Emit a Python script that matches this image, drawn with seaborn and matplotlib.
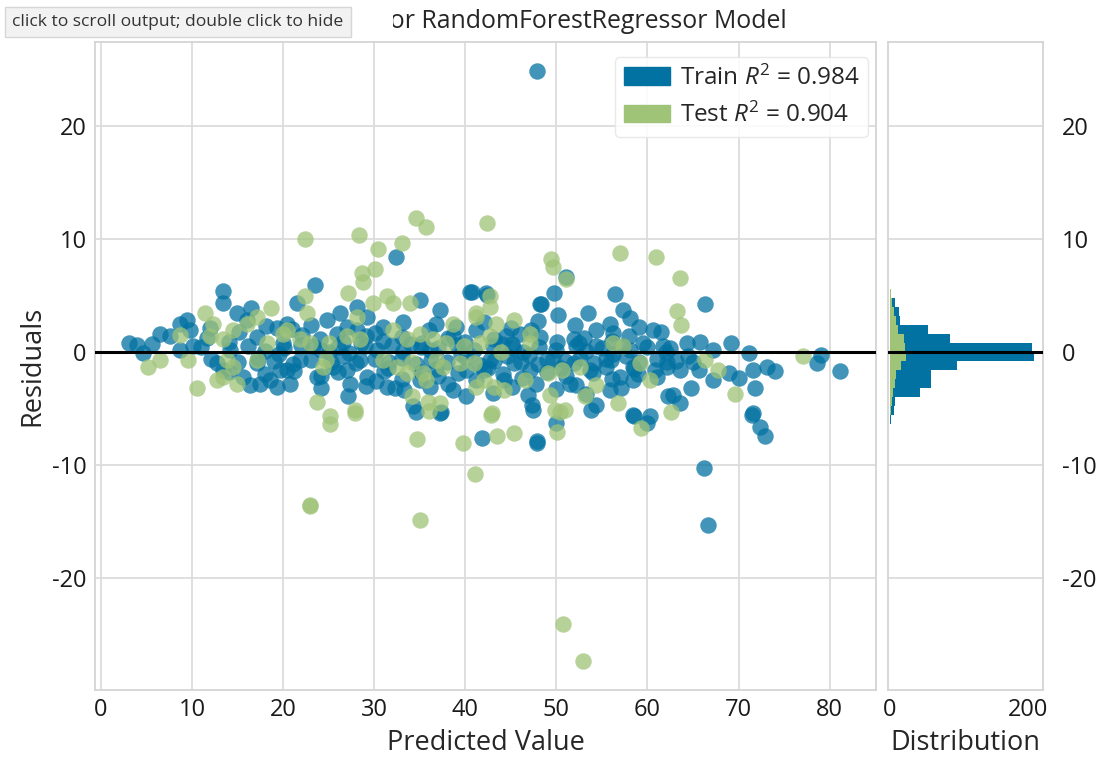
import numpy as np
import matplotlib
matplotlib.use("Agg")
import matplotlib.pyplot as plt
import seaborn as sns
from matplotlib.patches import Patch, Rectangle

# residuals: (predicted value, residual)
train_points = [
    (47.9, 24.8), (32.4, 8.4), (13.4, 5.4), (13.4, 4.3), (14.9, 3.4), (16.5, 3.9), (16.0, 2.8), (19.3, 2.1),
    (3.1, 0.8), (3.9, 0.6), (4.6, -0.1), (5.6, 0.7), (6.5, 1.6), (7.6, 1.4), (8.7, 2.5), (9.4, 2.8),
    (9.8, 1.9), (10.1, 0.5), (8.7, 0.2), (12.7, -1.0), (13.4, -1.6), (15.6, -2.2), (16.4, -2.9), (17.5, -2.8),
    (18.6, -2.5), (19.3, -3.1), (17.1, -1.0), (19.6, -1.6), (23.5, 5.9), (21.5, 4.3), (20.4, 2.5), (24.8, 2.8),
    (26.2, 3.4), (28.1, 4.0), (29.2, 3.1), (25.9, 1.6), (28.1, 1.9), (31.0, 2.2), (35.0, 4.6), (37.2, 3.7),
    (36.8, 2.5), (40.5, 5.3), (41.2, 1.9), (38.7, 1.4), (21.8, -0.7), (20.4, -1.6), (20.7, -2.8), (23.7, -2.2),
    (24.2, -3.2), (27.0, -1.6), (27.3, -2.8), (27.1, -3.9), (28.4, -0.7), (31.4, -3.1), (32.3, -3.2), (35.0, -2.5),
    (36.1, -3.1), (34.3, -4.8), (37.2, -5.4), (38.7, -3.4), (40.1, -1.6), (40.1, -3.9), (36.1, 0.2), (23.3, 0.5),
    (25.0, 0.0), (40.7, 5.3), (42.3, 5.2), (49.7, 5.2), (51.1, 6.6), (56.4, 5.1), (48.2, 4.2), (50.2, 3.3),
    (53.5, 3.4), (57.3, 3.7), (58.1, 3.0), (55.9, 2.5), (54.4, 1.9), (60.6, 1.9), (48.0, 2.7), (46.0, 1.6),
    (44.5, 1.4), (51.9, 1.1), (54.4, 0.5), (57.3, 0.5), (59.5, 0.8), (61.7, 0.5), (42.7, -0.7), (45.3, -1.0),
    (47.1, -1.6), (51.9, -1.0), (53.7, -1.6), (55.5, -1.3), (57.0, -2.2), (58.4, -1.3), (60.8, -1.6), (62.1, -0.9),
    (47.8, -2.8), (51.5, -2.8), (53.3, -3.7), (55.9, -3.4), (58.4, -2.5), (46.9, -3.8), (47.3, -4.7), (54.4, -4.7),
    (58.4, -5.6), (60.3, -5.7), (62.3, -3.9), (44.2, -2.5), (49.0, -0.7), (41.2, -2.5), (66.3, 4.2), (62.5, 0.3),
    (64.3, 0.8), (65.8, 0.9), (67.2, 0.2), (69.2, 0.8), (71.1, -0.1), (62.1, -1.3), (63.6, -1.6), (65.0, -0.9),
    (65.7, -1.6), (67.2, -2.5), (69.0, -1.9), (70.1, -2.3), (71.6, -1.6), (73.1, -1.3), (74.0, -1.7), (64.8, -3.2),
    (71.8, -3.2), (62.8, -3.8), (63.6, -4.5), (71.6, -5.4), (79.1, -0.3), (78.6, -1.0), (81.1, -1.7), (61.5, 1.8),
    (41.8, -7.6), (47.9, -8.1), (47.9, -7.9), (66.2, -10.3), (66.6, -15.3), (71.5, -5.6), (72.4, -6.6), (72.9, -7.4),
    (58.5, -5.7), (59.9, -6.3), (50.0, -6.3), (47.4, -5.1), (53.8, -5.1), (34.6, -5.3), (37.3, -5.3), (42.4, 5.0),
    (48.3, 4.2),
    # dense band around zero
    (11.0, 0.4), (14.2, 0.2), (16.1, 0.5), (18.0, 0.1), (20.1, 0.3), (22.0, 0.6), (24.1, 0.2), (26.0, 0.4),
    (27.2, -0.1), (29.0, 0.5), (30.3, 0.2), (32.0, 0.6), (33.2, 0.1), (35.1, 0.4), (37.0, 0.3), (39.1, 0.6),
    (41.0, 0.2), (43.0, 0.5), (45.2, 0.3), (46.3, 0.0), (48.1, 0.4), (50.0, 0.2), (52.1, 0.5), (53.3, 0.1),
    (55.0, 0.3), (56.2, -0.2), (58.1, 0.2), (60.0, 0.4),
    (12.1, -0.6), (15.0, -0.9), (17.2, -0.5), (19.0, -0.8), (21.1, -1.1), (23.0, -0.7), (25.2, -0.9), (26.6, -0.4),
    (28.0, -1.0), (30.1, -0.6), (31.6, -0.9), (33.0, -0.5), (34.6, -1.1), (36.2, -0.7), (38.0, -0.9), (40.1, -0.5),
    (41.6, -1.2), (43.1, -0.8), (44.6, -0.4), (46.1, -0.9), (48.0, -1.1), (49.6, -0.6), (51.0, -0.8), (52.6, -0.5),
    (54.1, -1.0), (56.0, -0.7), (57.6, -0.4), (59.1, -0.9), (61.0, -0.6), (63.1, -0.8),
    (11.6, 1.2), (14.0, 0.9), (17.1, 1.3), (20.0, 0.8), (22.1, 1.5), (24.0, 1.1), (26.6, 0.9), (29.1, 1.4),
    (31.0, 1.0), (33.1, 1.3), (35.2, 0.8), (38.1, 1.2), (40.0, 0.9), (43.2, 1.1), (45.1, 0.7), (48.2, 1.3),
    (50.1, 0.9), (53.0, 1.2), (56.1, 1.0), (58.0, 1.4),
    (14.1, -1.8), (18.0, -2.0), (21.2, -1.7), (24.1, -2.1), (26.0, -1.8), (29.2, -2.2), (31.1, -1.7), (33.0, -2.4),
    (35.1, -1.8), (37.0, -2.1), (39.2, -1.9), (42.0, -1.6), (44.1, -2.0), (46.2, -2.3), (49.0, -1.8), (51.1, -2.1),
    (54.0, -1.9), (56.1, -2.4), (59.0, -2.0), (61.1, -2.2),
    (29.1, -3.0), (30.2, -2.6), (33.3, -3.4), (38.1, -2.8), (43.0, -3.6), (45.1, -3.1), (50.0, -3.3), (52.2, -2.9),
    (57.1, -3.2),
    (12.0, 2.1), (15.1, 1.8), (18.1, 2.3), (21.0, 2.0), (23.1, 2.4), (27.0, 2.2), (30.1, 1.7), (33.2, 2.6),
    (36.0, 1.9), (39.0, 2.2), (42.1, 2.6), (45.0, 2.1), (47.2, 1.9), (52.0, 2.4), (56.2, 1.7), (59.1, 2.2),
    (19.5, -0.2), (25.5, -1.3), (28.5, 0.8), (31.5, -1.4), (34.0, 0.7), (36.8, -1.5), (39.5, -0.2), (42.5, -1.4),
    (44.0, 0.7), (47.0, -0.3), (50.5, -1.4), (52.5, 0.8), (55.5, -0.6), (58.5, -1.5), (62.0, 0.0), (64.5, -0.4),
]

test_points = [
    (22.4, 10.0), (28.3, 10.3), (30.4, 9.1), (33.0, 9.6), (34.6, 11.8), (35.7, 11.0), (42.4, 11.4), (30.1, 7.3),
    (28.7, 7.0), (49.4, 8.2), (49.6, 7.5), (57.0, 8.7), (60.9, 8.4), (63.6, 6.5), (25.1, -6.4), (27.9, -5.4),
    (34.7, -7.7), (39.7, -8.1), (43.5, -7.4), (45.4, -7.2), (41.1, -10.8), (22.9, -13.6), (22.9, -13.5), (35.0, -14.9),
    (50.7, -24.1), (52.9, -27.3), (59.3, -6.7), (62.6, -5.3), (50.1, -7.1), (50.4, -5.3), (36.0, -5.2), (42.8, -5.6),
    (5.2, -1.3), (6.5, -0.7), (8.7, 1.5), (9.6, -0.7), (10.5, -3.2), (11.4, 3.4), (12.3, 2.5), (12.0, 1.4),
    (13.4, 1.1), (14.5, 1.9), (13.8, -0.7), (14.5, -1.3), (12.7, -2.5), (13.4, -2.2), (14.9, -2.8), (16.0, 2.5),
    (17.1, 3.1), (18.7, 3.9), (18.2, 0.8), (17.1, -0.7), (20.0, 1.6), (28.8, 6.2), (27.1, 5.2), (22.4, 4.9),
    (22.6, 3.4), (31.4, 4.9), (32.1, 4.3), (29.9, 4.3), (33.9, 4.3), (28.1, 3.1), (20.4, 1.9), (21.8, 1.1),
    (22.9, 0.8), (27.0, 1.4), (28.4, 1.1), (25.0, 0.8), (32.1, 1.9), (33.6, 1.1), (35.0, 1.6), (36.5, 1.1),
    (37.9, 0.8), (39.8, 0.5), (38.7, 2.5), (41.2, 3.1), (31.0, -0.7), (32.5, -1.3), (34.1, -0.9), (33.6, -1.9),
    (35.4, -1.9), (36.8, -0.7), (37.5, -1.3), (39.4, -1.0), (24.4, -1.3), (24.7, -0.7), (23.7, -4.4), (27.9, -5.1),
    (25.1, -5.7), (34.1, -3.9), (35.9, -4.4), (37.2, -4.5), (35.7, -2.5), (51.1, 6.4), (42.7, 4.9), (41.2, 3.4),
    (42.7, 4.0), (43.4, 2.5), (45.3, 2.8), (42.7, 1.4), (47.1, 1.6), (47.1, 0.8), (41.6, 0.8), (43.9, 0.0),
    (56.2, 0.8), (57.3, 0.5), (40.9, -1.0), (42.0, -2.5), (43.1, -3.1), (44.2, -3.4), (41.2, -3.1), (46.5, -2.5),
    (49.1, -1.9), (50.6, -1.6), (52.6, -1.3), (54.4, -2.9), (49.3, -3.8), (49.8, -5.1), (50.9, -5.1), (42.9, -5.4),
    (56.8, -4.5), (59.2, -1.0), (60.3, -2.5), (53.1, -3.9), (63.2, 3.6), (63.7, 2.4), (66.3, -0.7), (67.8, -1.6),
    (69.6, -3.7), (77.1, -0.4),
]

# residual distribution (counts per bin)
hist_edges = [-6.4, -5.6, -4.8, -4.0, -3.2, -2.4, -1.6, -0.8, 0.0, 0.8, 1.6, 2.4, 3.2, 4.0, 4.8, 5.6, 6.4]
train_counts = [2, 6, 8, 44, 60, 60, 98, 209, 206, 88, 55, 15, 13, 7, 2, 0]
test_counts = [1, 2, 3, 4, 7, 9, 17, 24, 22, 21, 12, 9, 6, 3, 2, 1]

train_r2 = 0.984
test_r2 = 0.904

train_color = "#0272a2"
test_color = "#9fc377"

sns.set_theme(style="whitegrid")
plt.rcParams["font.family"] = ["Open Sans", "DejaVu Sans"]
plt.rcParams["axes.unicode_minus"] = False
plt.rcParams["mathtext.fontset"] = "custom"
plt.rcParams["mathtext.rm"] = "Open Sans"
plt.rcParams["mathtext.it"] = "Open Sans:italic"
plt.rcParams["axes.edgecolor"] = "#d4d4d4"
plt.rcParams["axes.linewidth"] = 1.3
plt.rcParams["grid.color"] = "#dcdcdc"
plt.rcParams["grid.linewidth"] = 1.3

fig = plt.figure(figsize=(11, 7.57), dpi=100)
ax = fig.add_axes([0.0864, 0.0885, 0.71, 0.856])
hax = fig.add_axes([0.807, 0.0885, 0.141, 0.856])

train_x, train_y = zip(*train_points)
test_x, test_y = zip(*test_points)

sns.scatterplot(x=list(train_x), y=list(train_y), color=train_color, alpha=0.75, s=140,
                linewidth=0, ax=ax, legend=False)
sns.scatterplot(x=list(test_x), y=list(test_y), color=test_color, alpha=0.75, s=140,
                linewidth=0, ax=ax, legend=False)
ax.axhline(0, color="black", lw=2.2, zorder=3)

ax.set_xlim(-0.66, 85.1)
ax.set_ylim(-29.9, 27.4)
ax.set_xticks(range(0, 90, 10))
ax.set_yticks([-20, -10, 0, 10, 20])
ax.tick_params(labelsize=17, colors="#1a1a1a", length=0, pad=6)
ax.set_xlabel("Predicted Value", fontsize=19.5, labelpad=5)
ax.set_ylabel("Residuals", fontsize=19.5, labelpad=4)
ax.set_title("Residuals for RandomForestRegressor Model", fontsize=17.9, pad=10,
             x=0.886, ha="right")

handles = [
    Patch(color=train_color, label=f"Train $R^2$ = {train_r2:.3f}"),
    Patch(color=test_color, label=f"Test $R^2$ = {test_r2:.3f}"),
]
ax.legend(handles=handles, loc="upper right", bbox_to_anchor=(1 - 8 / 781, 1 - 15 / 648),
          borderaxespad=0, fontsize=17.5, frameon=True, framealpha=0.85,
          edgecolor="#e6e6e6", handlelength=1.9, handleheight=0.75,
          handletextpad=0.4, borderpad=0.35)

# side histogram of the residuals
centers = (np.array(hist_edges[:-1]) + np.array(hist_edges[1:])) / 2
sns.histplot(y=centers, weights=train_counts, bins=hist_edges, color=train_color, alpha=1,
             linewidth=0, ax=hax)
sns.histplot(y=centers, weights=test_counts, bins=hist_edges, color=test_color, alpha=1,
             linewidth=0, ax=hax)
hax.axhline(0, color="black", lw=2.2, zorder=3)
hax.set_ylim(-29.9, 27.4)
hax.set_xlim(-3, 222)
hax.set_xticks([0, 200])
hax.set_yticks([-20, -10, 0, 10, 20])
hax.grid(axis="x", visible=False)
hax.yaxis.tick_right()
hax.tick_params(labelsize=17, colors="#1a1a1a", length=0, pad=14)
hax.tick_params(axis="x", pad=6)
hax.set_xlabel("Distribution", fontsize=19.5, labelpad=5)
hax.set_ylabel("")

# notebook tooltip (with its blank margin) that covers the start of the title
fig.add_artist(Rectangle((0, 1 - 38 / 757), 393 / 1100, 38 / 757, transform=fig.transFigure,
                         facecolor="white", edgecolor="none", zorder=5))
fig.text(0.011, 0.971, "click to scroll output; double click to hide", fontsize=12.6,
         va="center", ha="left", color="#333333", zorder=6,
         bbox=dict(boxstyle="square,pad=0.42", fc="#f2f2f2", ec="#d6d6d6", lw=1))

fig.savefig("out.png", dpi=100)
